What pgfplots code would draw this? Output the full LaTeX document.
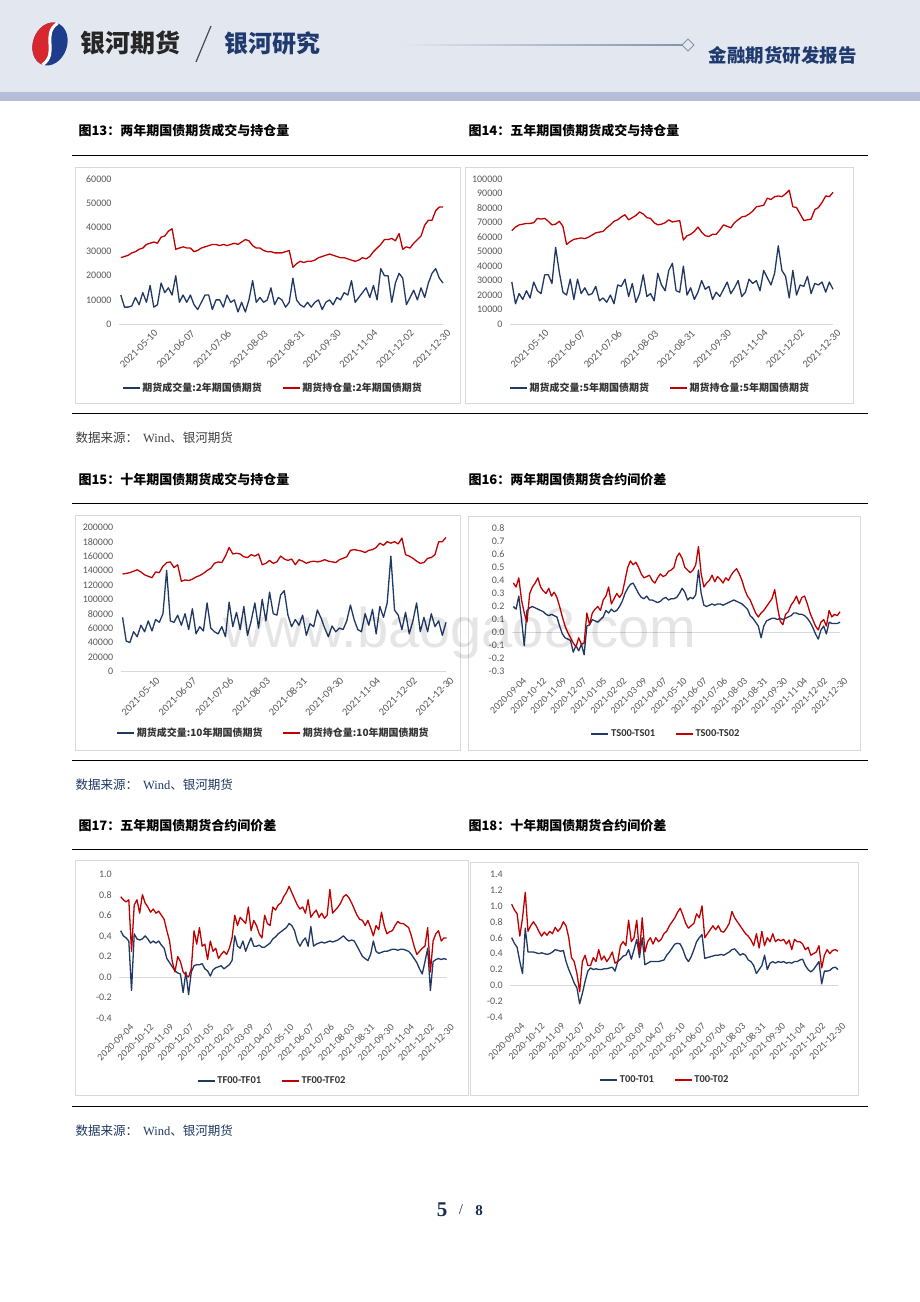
\documentclass[border=0pt]{standalone}
\usepackage{fontspec}
\usepackage{pgfplots}
\usepackage{pgfplotstable}
\pgfplotsset{compat=1.18}
\setmainfont{Liberation Serif}
\newfontfamily\cjk{Noto Sans CJK SC}
\newfontfamily\calfont{Carlito}
\newfontfamily\arialfont{Liberation Sans}
\definecolor{navy}{HTML}{203864}
\definecolor{dred}{HTML}{C00000}
\definecolor{hdrbg}{HTML}{E3E7F0}
\definecolor{hdrband}{HTML}{B6BFDA}
\definecolor{hdrtext}{HTML}{1F3A6E}
\definecolor{boxgray}{HTML}{D9D9D9}
\definecolor{ticktext}{HTML}{595959}
\definecolor{logored}{HTML}{D7282F}
\definecolor{logoblue}{HTML}{1E3C8C}

\newcommand\titlefont{\cjk\bfseries\fontsize{13}{15}\selectfont}
\newcommand\srcfont{\cjk\fontsize{12.5}{14}\selectfont}

\pgfplotsset{
  rchart/.style={
    scale only axis, anchor=north west,
    axis line style={draw=none}, major tick length=0pt, tick style={draw=none},
    xticklabel pos=lower, yticklabel pos=left,
    enlargelimits=false, clip=false, scaled y ticks=false,
    extra y ticks={0}, extra y tick labels={},
    extra y tick style={grid=major, major grid style={draw=boxgray, line width=0.8pt}},
    ticklabel style={font=\calfont\fontsize{10}{11}\selectfont, text=ticktext},
    yticklabel style={xshift=-4pt},
    xticklabel style={rotate=45, anchor=north east, inner sep=1pt, yshift=-5pt},
    /pgf/number format/assume math mode=true,
    /pgf/number format/set thousands separator={},
    legend style={draw=none, fill=none, legend columns=2, anchor=center,
      font=\cjk\bfseries\fontsize{10}{12}\selectfont, text=black!80,
      /tikz/every even column/.append style={column sep=18pt}},
    legend image code/.code={\draw[#1, line width=1.4pt] (0pt,0pt) -- (17pt,0pt);},
  },
  vol/.style={xmin=-0.5, xmax=88, xtick={8,18,28,38,48,58,68,78,88},
    xticklabels={2021-05-10,2021-06-07,2021-07-06,2021-08-03,2021-08-31,2021-09-30,2021-11-04,2021-12-02,2021-12-30},
    xticklabel style={font=\calfont\fontsize{10.5}{11}\selectfont},
    yticklabel style={/pgf/number format/.cd, fixed, precision=0}},
  spr/.style={xmin=-0.5, xmax=120,
    xtick={2,9.375,16.75,24.125,31.5,38.875,46.25,53.625,61,68.375,75.75,83.125,90.5,97.875,105.25,112.625,120},
    xticklabels={2020-09-04,2020-10-12,2020-11-09,2020-12-07,2021-01-05,2021-02-02,2021-03-09,2021-04-07,2021-05-10,2021-06-07,2021-07-06,2021-08-03,2021-08-31,2021-09-30,2021-11-04,2021-12-02,2021-12-30},
    yticklabel style={/pgf/number format/.cd, fixed, fixed zerofill, precision=1},
    legend style={font=\calfont\bfseries\fontsize{10.5}{12}\selectfont}},
  bl/.style={color=navy, line width=1.3pt, mark=none, line join=round},
  rd/.style={color=dred, line width=1.3pt, mark=none, line join=round},
}

% volume / open interest, in thousands of lots (a = volume, b = open interest)
\pgfplotstableread[row sep=\\]{
a b\\
12 27.5\\ 7 28\\ 7 28.5\\ 7.5 29.5\\ 11 30\\ 8 31\\ 13 31.5\\ 9 33\\ 16 33.5\\ 7 34\\
8 33.5\\ 17 36\\ 13 36.5\\ 15 38.5\\ 12 39.5\\ 20 31\\ 9 31.5\\ 12 32\\ 9 31.5\\ 12 31.5\\
8 30\\ 6 30.5\\ 9 31.5\\ 12 32\\ 12 32.5\\ 6 33\\ 10 33\\ 10 32.5\\ 7 33\\ 12 32.5\\
9 33\\ 10 33.5\\ 5 33\\ 9 34\\ 5 35\\ 10 34.5\\ 18 32.5\\ 9 31.5\\ 11 31.5\\ 9 30.5\\
10 30\\ 15 30\\ 8 29.5\\ 11 29.5\\ 10 29.5\\ 7 30\\ 9 30.5\\ 19 23.5\\ 10 25\\ 8 26\\
7 25.5\\ 9 26\\ 7 26\\ 9 26.5\\ 10 27.5\\ 6 28\\ 9 28.5\\ 10 29\\ 8 28.5\\ 11 28\\
10 27.5\\ 13 27.5\\ 12 27\\ 18 26.5\\ 9 26\\ 11 26.5\\ 13 27.5\\ 15 27\\ 11 28\\ 16 30\\
10 31.5\\ 23 33\\ 20 35\\ 20 35\\ 9 35.5\\ 17 34.5\\ 21 37.5\\ 19 31\\ 8 32\\ 11 31.5\\
14 33.5\\ 10 35\\ 15 36.5\\ 11 41\\ 17 43\\ 21 43\\ 23 47\\ 19 48.5\\ 17 48.5\\
}\tabA
\pgfplotstableread[row sep=\\]{
a b\\
29 64.5\\ 14 67\\ 21 68.5\\ 17 69\\ 23 69.5\\ 18 69.5\\ 29 70\\ 23 73\\ 21 72.5\\ 34 73\\
34 71\\ 28 68.5\\ 53 69\\ 36 71\\ 22 67.5\\ 20 55\\ 31 57\\ 17 58.5\\ 31 59\\ 21 59.5\\
25 59\\ 20 60\\ 21 61.5\\ 26 63\\ 16 63.5\\ 18 64\\ 15 66.5\\ 20 68.5\\ 14 71\\ 27 72\\
26 74\\ 31 75.5\\ 19 72\\ 28 73.5\\ 15 75\\ 21 77.5\\ 34 76\\ 19 73.5\\ 21 73\\ 16 70\\
35 68.5\\ 27 69\\ 23 70\\ 37 72\\ 42 70.5\\ 23 71\\ 22 71.5\\ 40 58\\ 20 61\\ 25 62\\
17 64\\ 22 67\\ 30 63.5\\ 24 61\\ 26 60.5\\ 17 62\\ 22 62\\ 19 65\\ 24 68.5\\ 29 67.5\\
21 66.5\\ 25 70\\ 30 72\\ 19 74\\ 22 74.5\\ 31 76\\ 28 78\\ 30 81\\ 23 81.5\\ 37 82\\
32 87\\ 27 86\\ 35 88\\ 54 88.5\\ 37 88\\ 33 90\\ 18 92.5\\ 37 81\\ 20 80.5\\ 27 76\\
26 71.5\\ 33 72\\ 21 72.5\\ 28 79\\ 27 80.5\\ 29 84\\ 22 88.5\\ 29 88\\ 24 91\\
}\tabB
\pgfplotstableread[row sep=\\]{
a b\\
75 135\\ 42 136\\ 40 137\\ 55 139\\ 48 141\\ 64 138\\ 55 134\\ 70 132\\ 56 130\\ 72 138\\
68 137\\ 80 146\\ 140 151\\ 70 152\\ 68 144\\ 78 148\\ 64 125\\ 80 127\\ 58 126\\ 87 128\\
52 131\\ 62 133\\ 56 136\\ 95 140\\ 60 143\\ 55 150\\ 52 152\\ 62 151\\ 48 160\\ 96 172\\
62 163\\ 82 164\\ 58 163\\ 90 159\\ 50 158\\ 70 162\\ 95 160\\ 60 163\\ 100 148\\ 70 150\\
110 154\\ 80 150\\ 78 152\\ 106 160\\ 112 156\\ 78 154\\ 62 156\\ 72 148\\ 64 155\\ 78 153\\
50 150\\ 66 152\\ 62 153\\ 85 152\\ 74 153\\ 60 155\\ 48 153\\ 63 152\\ 55 151\\ 60 155\\
58 157\\ 70 159\\ 92 168\\ 72 169\\ 58 168\\ 55 167\\ 80 165\\ 64 168\\ 86 169\\ 52 172\\
90 178\\ 75 175\\ 95 180\\ 160 178\\ 85 180\\ 78 177\\ 58 185\\ 82 162\\ 52 160\\ 70 157\\
95 153\\ 55 150\\ 75 151\\ 55 157\\ 80 158\\ 62 162\\ 70 180\\ 50 180\\ 68 186\\
}\tabC
% calendar spreads, in hundredths (a = 00-01, b = 00-02)
\pgfplotstableread[row sep=\\]{
a b\\
20 38\\ 18 35\\ 28 42\\ 10 25\\ -10 15\\ 17 8\\ 19 30\\ 20 35\\ 19 38\\ 18 42\\
17 35\\ 16 32\\ 14 30\\ 13 34\\ 14 28\\ 13 31\\ 12 27\\ 5 20\\ -1 12\\ -4 5\\
-5 0\\ -6 -4\\ -15 -8\\ -10 -11\\ -14 -4\\ -9 -9\\ -17 -8\\ 5 15\\ 6 6\\ 10 15\\
9 18\\ 8 20\\ 10 17\\ 12 25\\ 17 28\\ 15 35\\ 18 22\\ 16 26\\ 17 30\\ 20 27\\
24 30\\ 30 40\\ 34 50\\ 37 55\\ 38 52\\ 34 54\\ 30 50\\ 27 45\\ 26 42\\ 28 43\\
25 44\\ 25 40\\ 24 38\\ 23 42\\ 24 45\\ 26 43\\ 27 44\\ 25 47\\ 26 48\\ 26 50\\
27 58\\ 30 61\\ 34 57\\ 31 50\\ 25 48\\ 27 46\\ 26 48\\ 29 52\\ 48 66\\ 30 45\\
21 35\\ 20 38\\ 21 40\\ 22 44\\ 21 39\\ 22 43\\ 22 41\\ 21 38\\ 22 42\\ 23 40\\
24 44\\ 25 47\\ 24 49\\ 23 45\\ 22 40\\ 20 33\\ 18 28\\ 13 25\\ 11 20\\ 8 15\\
5 12\\ -4 15\\ 5 17\\ 9 20\\ 10 23\\ 11 26\\ 11 33\\ 10 20\\ 11 9\\ 10 6\\
11 14\\ 12 16\\ 13 21\\ 15 24\\ 15 28\\ 14 22\\ 14 27\\ 13 28\\ 11 22\\ 8 15\\
4 10\\ -1 5\\ -5 2\\ 2 8\\ 5 10\\ -1 5\\ 8 17\\ 7 12\\ 7 14\\ 7 13\\ 8 16\\
}\tabD
\pgfplotstableread[row sep=\\]{
a b\\
45 78\\ 40 75\\ 38 73\\ 35 75\\ -13 25\\ 42 70\\ 37 75\\ 36 62\\ 37 80\\ 40 72\\
37 68\\ 33 63\\ 35 66\\ 33 62\\ 35 64\\ 31 60\\ 28 56\\ 18 45\\ 14 35\\ 10 15\\
6 5\\ 4 20\\ 3 15\\ -15 5\\ 5 2\\ -17 0\\ 5 8\\ 11 45\\ 12 32\\ 12 48\\
13 30\\ 8 32\\ 6 17\\ 1 35\\ 7 25\\ 9 28\\ 10 18\\ 11 22\\ 8 25\\ 10 22\\
12 28\\ 16 38\\ 40 60\\ 30 50\\ 28 58\\ 35 55\\ 25 52\\ 32 68\\ 38 45\\ 30 55\\
30 50\\ 31 42\\ 29 38\\ 29 60\\ 31 52\\ 33 50\\ 37 68\\ 39 65\\ 42 70\\ 44 72\\
46 78\\ 48 82\\ 52 88\\ 50 82\\ 45 76\\ 35 70\\ 30 66\\ 35 68\\ 38 62\\ 30 75\\
49 58\\ 30 62\\ 32 65\\ 33 58\\ 34 62\\ 33 57\\ 34 60\\ 35 85\\ 34 62\\ 35 65\\
36 68\\ 38 72\\ 40 78\\ 37 80\\ 35 77\\ 36 72\\ 35 66\\ 30 60\\ 25 56\\ 20 55\\
18 50\\ 16 55\\ 22 48\\ 35 40\\ 25 50\\ 23 46\\ 24 63\\ 25 50\\ 25 42\\ 26 44\\
27 45\\ 27 50\\ 26 54\\ 27 52\\ 27 52\\ 26 50\\ 25 48\\ 22 40\\ 18 30\\ 14 22\\
8 25\\ 3 28\\ 15 30\\ 28 48\\ -13 5\\ 15 35\\ 17 42\\ 18 45\\ 17 35\\ 18 38\\ 17 38\\
}\tabE
\pgfplotstableread[row sep=\\]{
a b\\
60 102\\ 53 95\\ 48 90\\ 30 62\\ 15 85\\ 72 117\\ 42 68\\ 42 75\\ 42 80\\ 41 75\\
40 68\\ 41 62\\ 40 67\\ 39 63\\ 40 68\\ 42 65\\ 45 73\\ 44 68\\ 43 72\\ 44 80\\
30 75\\ 20 60\\ 12 35\\ 3 30\\ -3 15\\ -23 -8\\ -10 30\\ 5 38\\ 18 25\\ 22 25\\
20 35\\ 21 30\\ 20 45\\ 20 32\\ 21 37\\ 21 30\\ 22 35\\ 23 42\\ 18 28\\ 30 30\\
33 50\\ 37 55\\ 38 50\\ 45 82\\ 33 55\\ 45 60\\ 58 82\\ 35 40\\ 60 85\\ 26 42\\
28 55\\ 30 60\\ 30 52\\ 30 60\\ 30 55\\ 31 58\\ 32 65\\ 38 68\\ 42 75\\ 47 80\\
52 85\\ 53 92\\ 52 97\\ 45 88\\ 35 78\\ 30 72\\ 36 75\\ 45 78\\ 55 90\\ 60 85\\
64 100\\ 34 60\\ 35 65\\ 36 70\\ 37 75\\ 38 70\\ 38 75\\ 39 68\\ 38 67\\ 40 72\\
42 78\\ 45 93\\ 46 85\\ 42 80\\ 38 75\\ 40 70\\ 38 65\\ 32 62\\ 30 57\\ 25 50\\
15 65\\ 20 47\\ 25 68\\ 38 50\\ 20 60\\ 28 55\\ 30 65\\ 28 55\\ 30 58\\ 29 56\\
30 58\\ 28 52\\ 29 57\\ 28 45\\ 30 58\\ 30 55\\ 32 55\\ 33 52\\ 25 45\\ 20 48\\
17 38\\ 20 40\\ 25 42\\ 30 50\\ 2 22\\ 18 38\\ 18 45\\ 19 40\\ 22 44\\ 23 45\\ 20 43\\
}\tabF

\begin{document}
\begin{tikzpicture}
\fill[white] (0,0) rectangle (920pt,-1302pt);
\useasboundingbox (0,0) rectangle (920pt,-1302pt);

% header
\fill[hdrbg] (0,0) rectangle (920pt,-92pt);
\fill[hdrband] (0,-92pt) rectangle (920pt,-101pt);
\begin{scope}[shift={(50pt,-44pt)}, rotate=-20]
  \fill[logoblue] (0,0) ellipse (17pt and 22pt);
  \fill[logored] (0,22pt) arc[start angle=90, end angle=270, x radius=17pt, y radius=22pt]
    .. controls (12pt,-6pt) and (-12pt,6pt) .. (0,22pt);
  \draw[white, line width=3pt] (0,22pt) .. controls (-12pt,6pt) and (12pt,-6pt) .. (0,-22pt);
\end{scope}
\node[anchor=west, font=\cjk\bfseries\fontsize{25}{25}\selectfont, text=black!85] at (77pt,-43pt) {银河期货};
\draw[black!70, line width=1.2pt] (196pt,-62pt) -- (211pt,-26pt);
\node[anchor=west, font=\cjk\bfseries\fontsize{24}{24}\selectfont, text=hdrtext] at (221pt,-43pt) {银河研究};
\shade[left color=hdrbg, right color=hdrtext!55] (400pt,-44.4pt) rectangle (682pt,-45.6pt);
\draw[hdrtext!55, line width=0.8pt, fill=hdrbg] (682pt,-45pt) -- (688pt,-39pt) -- (694pt,-45pt) -- (688pt,-51pt) -- cycle;
\node[anchor=west, font=\cjk\bfseries\fontsize{18.5}{19}\selectfont, text=hdrtext] at (705pt,-55pt) {金融期货研发报告};

% titles, rules, sources
\foreach \y in {155,413,503,760,849,1106} \draw[black, line width=1pt] (72pt,-\y pt) -- (868pt,-\y pt);
\node[anchor=west, font=\titlefont] at (75pt,-131pt) {图13：两年期国债期货成交与持仓量};
\node[anchor=west, font=\titlefont] at (465pt,-131pt) {图14：五年期国债期货成交与持仓量};
\node[anchor=west, font=\titlefont] at (75pt,-480pt) {图15：十年期国债期货成交与持仓量};
\node[anchor=west, font=\titlefont] at (465pt,-480pt) {图16：两年期国债期货合约间价差};
\node[anchor=west, font=\titlefont] at (75pt,-826pt) {图17：五年期国债期货合约间价差};
\node[anchor=west, font=\titlefont] at (465pt,-826pt) {图18：十年期国债期货合约间价差};
\node[anchor=west, font=\srcfont, text=black!75] at (72pt,-438pt) {数据来源：\hspace{5pt}{\rmfamily Wind}、银河期货};
\node[anchor=west, font=\srcfont, text=navy] at (72pt,-785pt) {数据来源：\hspace{5pt}{\rmfamily Wind}、银河期货};
\node[anchor=west, font=\srcfont, text=navy] at (72pt,-1131pt) {数据来源：\hspace{5pt}{\rmfamily Wind}、银河期货};

% chart frames
\draw[boxgray, fill=white, line width=0.8pt] (75pt,-167pt) rectangle (460pt,-403pt);
\draw[boxgray, fill=white, line width=0.8pt] (465pt,-167pt) rectangle (853pt,-403pt);
\draw[boxgray, fill=white, line width=0.8pt] (75pt,-515pt) rectangle (460pt,-750pt);
\draw[boxgray, fill=white, line width=0.8pt] (468pt,-516pt) rectangle (860pt,-750pt);
\draw[boxgray, fill=white, line width=0.8pt] (75pt,-860pt) rectangle (468pt,-1095pt);
\draw[boxgray, fill=white, line width=0.8pt] (470pt,-862pt) rectangle (858pt,-1095pt);

\begin{axis}[rchart, vol, at={(119pt,-179.3pt)}, width=324pt, height=144.7pt,
  ymin=0, ymax=60000, ytick={0,10000,...,60000}, legend style={at={(0.475,-0.442)}}]
  \addplot[bl] table[x expr=\coordindex, y expr=\thisrow{a}*1000] {\tabA};
  \addplot[rd] table[x expr=\coordindex, y expr=\thisrow{b}*1000] {\tabA};
  \legend{期货成交量:2年期国债期货, 期货持仓量:2年期国债期货}
\end{axis}

\begin{axis}[rchart, vol, at={(510pt,-179.3pt)}, width=323pt, height=144.7pt,
  ymin=0, ymax=100000, ytick={0,10000,...,100000}, legend style={at={(0.465,-0.442)}}]
  \addplot[bl] table[x expr=\coordindex, y expr=\thisrow{a}*1000] {\tabB};
  \addplot[rd] table[x expr=\coordindex, y expr=\thisrow{b}*1000] {\tabB};
  \legend{期货成交量:5年期国债期货, 期货持仓量:5年期国债期货}
\end{axis}

\begin{axis}[rchart, vol, at={(120.7pt,-527.3pt)}, width=325.3pt, height=144pt,
  ymin=0, ymax=200000, ytick={0,20000,...,200000}, legend style={at={(0.47,-0.428)}}]
  \addplot[bl] table[x expr=\coordindex, y expr=\thisrow{a}*1000] {\tabC};
  \addplot[rd] table[x expr=\coordindex, y expr=\thisrow{b}*1000] {\tabC};
  \legend{期货成交量:10年期国债期货, 期货持仓量:10年期国债期货}
\end{axis}

\begin{axis}[rchart, spr, at={(512pt,-528.3pt)}, width=328pt, height=143.4pt,
  ymin=-0.3, ymax=0.8, ytick={-0.3,-0.2,-0.1,0,0.1,0.2,0.3,0.4,0.5,0.6,0.7,0.8},
  legend style={at={(0.47,-0.434)}}]
  \addplot[bl] table[x expr=\coordindex, y expr=\thisrow{a}/100] {\tabD};
  \addplot[rd] table[x expr=\coordindex, y expr=\thisrow{b}/100] {\tabD};
  \legend{TS00-TS01, TS00-TS02}
\end{axis}

\begin{axis}[rchart, spr, at={(119.3pt,-874pt)}, width=327.4pt, height=144.3pt,
  ymin=-0.4, ymax=1.0, ytick={-0.4,-0.2,0,0.2,0.4,0.6,0.8,1.0},
  legend style={at={(0.467,-0.435)}}]
  \addplot[bl] table[x expr=\coordindex, y expr=\thisrow{a}/100] {\tabE};
  \addplot[rd] table[x expr=\coordindex, y expr=\thisrow{b}/100] {\tabE};
  \legend{TF00-TF01, TF00-TF02}
\end{axis}

\begin{axis}[rchart, spr, at={(510.3pt,-874pt)}, width=327.7pt, height=143.3pt,
  ymin=-0.4, ymax=1.4, ytick={-0.4,-0.2,0,0.2,0.4,0.6,0.8,1.0,1.2,1.4},
  legend style={at={(0.472,-0.4375)}}]
  \addplot[bl] table[x expr=\coordindex, y expr=\thisrow{a}/100] {\tabF};
  \addplot[rd] table[x expr=\coordindex, y expr=\thisrow{b}/100] {\tabF};
  \legend{T00-T01, T00-T02}
\end{axis}

% watermark
\node[font=\arialfont\fontsize{56}{56}\selectfont, text=black, opacity=0.1] at (460pt,-633pt) {www.baogao8.com};

% page number
\node[font=\bfseries\fontsize{21}{21}\selectfont, text=navy!80!black] at (442pt,-1210pt) {5};
\node[font=\fontsize{15}{15}\selectfont, text=navy!80!black] at (461pt,-1210pt) {/};
\node[font=\bfseries\fontsize{15}{15}\selectfont, text=navy!80!black] at (479pt,-1211pt) {8};
\end{tikzpicture}
\end{document}
